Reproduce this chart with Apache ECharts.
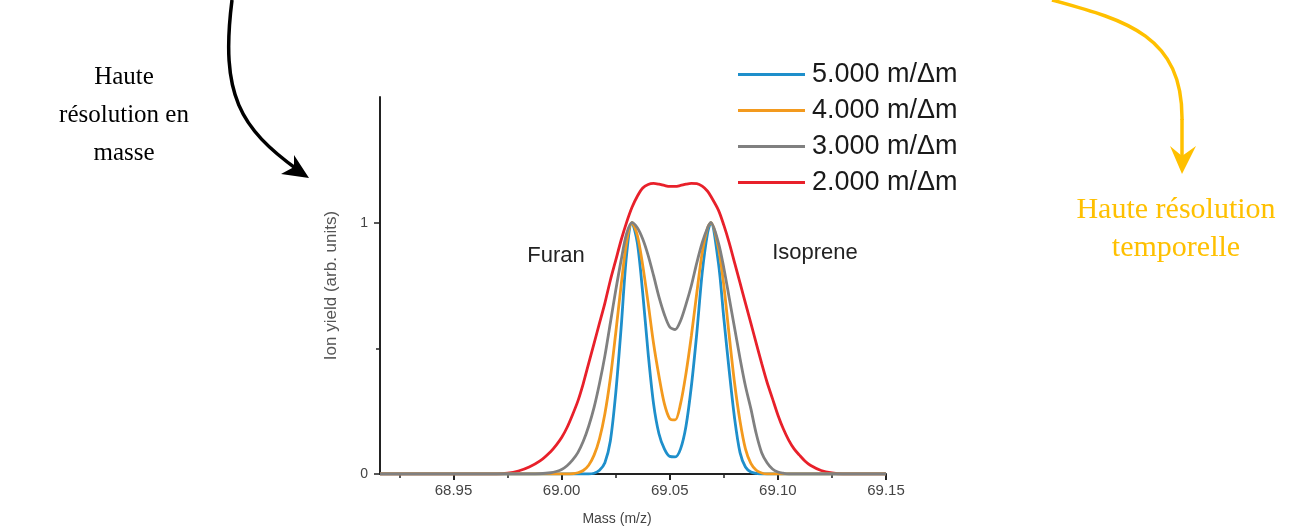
<!DOCTYPE html>
<html>
<head>
<meta charset="utf-8">
<title>Ion yield vs mass</title>
<script src="https://cdn.jsdelivr.net/npm/echarts@6/dist/echarts.min.js"></script>
<style>
  html, body { margin: 0; padding: 0; background: #fff; }
  #chart { width: 1307px; height: 528px; }
</style>
</head>
<body>
<div id="chart"></div>
<script>
// mass axis (m/z), shared by all four curves
const mass = [68.916, 68.95, 68.97, 68.975, 68.98, 68.985, 68.99, 68.995, 68.9975, 69.0,
  69.0025, 69.005, 69.0075, 69.01, 69.0125, 69.015, 69.0175, 69.02, 69.0225, 69.025,
  69.0275, 69.03, 69.0325, 69.035, 69.0375, 69.04, 69.0425, 69.045, 69.0475, 69.05,
  69.0525, 69.055, 69.0575, 69.06, 69.0625, 69.065, 69.0675,
  69.069,
  69.0725, 69.075, 69.0775, 69.08, 69.0825, 69.085, 69.0875, 69.09, 69.0925, 69.095,
  69.0975, 69.1, 69.1025, 69.105, 69.1075, 69.11, 69.1125, 69.115,
  69.12, 69.125, 69.13, 69.14, 69.15]

// ion yield (same order as mass)
const res5000 = [0, 0, 0, 0, 0, 0, 0, 0, 0, 0,
  0, 0, 0, 0, 0, 0.003, 0.015, 0.045, 0.13, 0.32,
  0.58, 0.87, 1.0, 0.92, 0.72, 0.48, 0.28, 0.16, 0.1, 0.07,
  0.068, 0.1, 0.19, 0.35, 0.56, 0.8, 0.96,
  1.0,
  0.84, 0.62, 0.41, 0.22, 0.085, 0.028, 0.008, 0.002, 0, 0,
  0, 0, 0, 0, 0, 0, 0, 0,
  0, 0, 0, 0, 0]
const res4000 = [0, 0, 0, 0, 0, 0, 0, 0, 0, 0,
  0, 0.001, 0.005, 0.014, 0.035, 0.075, 0.14, 0.24, 0.38, 0.56,
  0.75, 0.92, 1.0, 0.95, 0.83, 0.68, 0.52, 0.39, 0.28, 0.22,
  0.215, 0.28, 0.4, 0.55, 0.72, 0.88, 0.98,
  1.0,
  0.9, 0.75, 0.55, 0.36, 0.21, 0.1, 0.042, 0.015, 0.004, 0,
  0, 0, 0, 0, 0, 0, 0, 0,
  0, 0, 0, 0, 0]
const res3000 = [0, 0, 0, 0, 0, 0, 0.001, 0.005, 0.01, 0.018,
  0.033, 0.055, 0.085, 0.13, 0.19, 0.265, 0.36, 0.47, 0.6, 0.73,
  0.85, 0.955, 1.0, 0.98, 0.935, 0.87, 0.79, 0.705, 0.635, 0.585,
  0.575, 0.61, 0.675, 0.75, 0.84, 0.92, 0.98,
  1.0,
  0.92, 0.82, 0.7, 0.58, 0.46, 0.35, 0.26, 0.16, 0.085, 0.045,
  0.02, 0.008, 0.003, 0, 0, 0, 0, 0,
  0, 0, 0, 0, 0]
const res2000 = [0, 0, 0, 0.003, 0.012, 0.028, 0.052, 0.09, 0.115, 0.145,
  0.185, 0.235, 0.29, 0.36, 0.44, 0.52, 0.6, 0.68, 0.77, 0.85,
  0.93, 1.0, 1.06, 1.105, 1.138, 1.152, 1.156, 1.153, 1.148, 1.144,
  1.144, 1.148, 1.153, 1.156, 1.155, 1.145, 1.125,
  1.105,
  1.05, 0.99, 0.92, 0.84, 0.76, 0.68, 0.6, 0.52, 0.44, 0.365,
  0.3, 0.235, 0.18, 0.135, 0.1, 0.075, 0.052, 0.035,
  0.014, 0.004, 0, 0, 0]

const seriesNames = ['5.000 m/\u0394m', '4.000 m/\u0394m', '3.000 m/\u0394m', '2.000 m/\u0394m']
const xMajorTicks = [68.95, 69.0, 69.05, 69.1, 69.15]
const xMinorTicks = [68.925, 68.975, 69.025, 69.075, 69.125]
const yMajorTicks = [0, 1]
const yMinorTicks = [0.5]

const pairs = (ys) => mass.map((m, i) => [m, ys[i]])

const chart = echarts.init(document.getElementById('chart'))

const sans = '"Liberation Sans", Arial, sans-serif'
const serif = '"Liberation Serif", "Times New Roman", serif'

function curve(name, ys, color) {
  return {
    name: name,
    type: 'line',
    data: pairs(ys),
    showSymbol: false,
    symbol: 'none',
    smooth: 0.3,
    lineStyle: { color: color, width: 2.8 },
    itemStyle: { color: color }
  }
}

const option = {
  animation: false,
  backgroundColor: '#fff',
  // fixed plot box, don't let v6 shrink it to fit the axis names
  grid: { left: 380, right: 421, top: 97, bottom: 54, containLabel: false, outerBoundsMode: 'none' },
  legend: {
    data: seriesNames,
    orient: 'vertical',
    left: 733,
    top: 56,
    icon: 'rect',
    itemWidth: 67,
    itemHeight: 3,
    itemGap: 9,
    textStyle: { fontSize: 27, color: '#1a1a1a', fontFamily: sans, padding: [0, 0, 0, 2] }
  },
  xAxis: [
    {
      type: 'value',
      min: 68.916,
      max: 69.15,
      name: 'Mass (m/z)',
      nameLocation: 'middle',
      nameGap: 38,
      nameTextStyle: { fontSize: 14, color: '#444', fontFamily: sans, padding: [0, 32, 0, 0] },
      axisLine: { lineStyle: { color: '#222', width: 2 } },
      axisTick: { customValues: xMajorTicks, length: 6, lineStyle: { color: '#222', width: 2 } },
      axisLabel: {
        customValues: xMajorTicks,
        margin: 9,
        fontSize: 15,
        color: '#444',
        fontFamily: sans,
        formatter: (v) => v.toFixed(2)
      },
      splitLine: { show: false }
    },
    {
      // minor ticks only
      type: 'value',
      min: 68.916,
      max: 69.15,
      position: 'bottom',
      axisLine: { show: false },
      axisTick: { customValues: xMinorTicks, length: 4, lineStyle: { color: '#222', width: 1.5 } },
      axisLabel: { show: false },
      splitLine: { show: false }
    }
  ],
  yAxis: [
    {
      type: 'value',
      min: 0,
      max: 1.5,
      name: 'Ion yield (arb. units)',
      nameLocation: 'middle',
      nameGap: 40,
      nameRotate: 90,
      nameTextStyle: { fontSize: 17, color: '#555', fontFamily: sans },
      axisLine: { show: true, lineStyle: { color: '#222', width: 2 } },
      axisTick: { show: true, customValues: yMajorTicks, length: 6, lineStyle: { color: '#222', width: 1.5 } },
      axisLabel: { customValues: yMajorTicks, margin: 12, fontSize: 14, color: '#444', fontFamily: sans },
      splitLine: { show: false }
    },
    {
      type: 'value',
      min: 0,
      max: 1.5,
      position: 'left',
      axisLine: { show: false },
      axisTick: { show: true, customValues: yMinorTicks, length: 4, lineStyle: { color: '#222', width: 1.5 } },
      axisLabel: { show: false },
      splitLine: { show: false }
    }
  ],
  series: [
    curve(seriesNames[3], res2000, '#e8202a'),
    curve(seriesNames[0], res5000, '#1e8fcb'),
    curve(seriesNames[1], res4000, '#f39a1e'),
    curve(seriesNames[2], res3000, '#808080')
  ],
  graphic: [
    // peak labels
    { type: 'text', x: 556, y: 256, style: { text: 'Furan', fontSize: 22, fontFamily: sans, fill: '#222', textAlign: 'center', textVerticalAlign: 'middle' } },
    { type: 'text', x: 815, y: 253, style: { text: 'Isoprene', fontSize: 22, fontFamily: sans, fill: '#222', textAlign: 'center', textVerticalAlign: 'middle' } },
    // left annotation + black arrow
    { type: 'text', x: 124, y: 115, style: { text: 'Haute\nrésolution en\nmasse', fontSize: 25, lineHeight: 38, fontFamily: serif, fill: '#000', textAlign: 'center', textVerticalAlign: 'middle' } },
    {
      type: 'bezierCurve',
      shape: { x1: 232, y1: 0, cpx1: 220, cpy1: 95, cpx2: 240, cpy2: 128, x2: 298, y2: 170 },
      style: { stroke: '#000', lineWidth: 3.5, fill: null }
    },
    { type: 'polygon', shape: { points: [[309, 178], [281, 174], [294, 167], [294, 155]] }, style: { fill: '#000' } },
    // right annotation + yellow arrow
    { type: 'text', x: 1176, y: 229, style: { text: 'Haute résolution\ntemporelle', fontSize: 30, lineHeight: 38, fontFamily: serif, fill: '#ffc000', textAlign: 'center', textVerticalAlign: 'middle' } },
    {
      type: 'bezierCurve',
      shape: { x1: 1052, y1: 0, cpx1: 1125, cpy1: 20, cpx2: 1183, cpy2: 35, x2: 1182, y2: 120 },
      style: { stroke: '#ffc000', lineWidth: 3.5, fill: null }
    },
    { type: 'line', shape: { x1: 1182, y1: 119, x2: 1182, y2: 160 }, style: { stroke: '#ffc000', lineWidth: 3.5 } },
    { type: 'polygon', shape: { points: [[1182, 174], [1170, 146], [1182, 156], [1196, 146]] }, style: { fill: '#ffc000' } }
  ]
}

option && chart.setOption(option)
</script>
</body>
</html>
